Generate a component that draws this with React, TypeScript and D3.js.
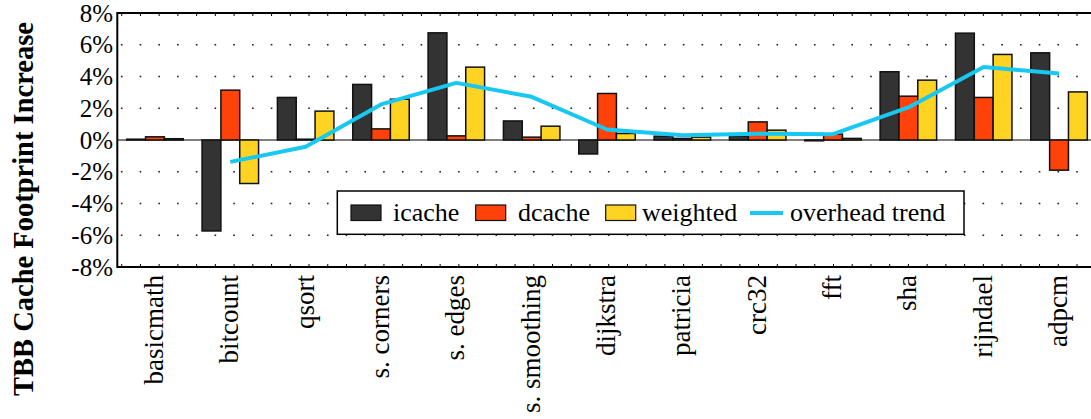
import React from "react";
import * as d3 from "d3";

const categories = ["basicmath", "bitcount", "qsort", "s. corners", "s. edges", "s. smoothing", "dijkstra", "patricia", "crc32", "fft", "sha", "rijndael", "adpcm"];
const icache = [0.05, -5.73, 2.68, 3.5, 6.75, 1.2, -0.88, 0.24, 0.25, -0.05, 4.3, 6.73, 5.49];
const dcache = [0.2, 3.14, 0.05, 0.7, 0.26, 0.18, 2.93, 0.1, 1.14, 0.37, 2.76, 2.68, -1.9];
const weighted = [0.08, -2.74, 1.82, 2.57, 4.59, 0.87, 0.41, 0.18, 0.62, 0.1, 3.77, 5.39, 3.03];
const trend: (number | null)[] = [null, -1.38, -0.43, 2.24, 3.6, 2.72, 0.66, 0.3, 0.4, 0.37, 2.05, 4.6, 4.19];
const yTicks = [-8, -6, -4, -2, 0, 2, 4, 6, 8];
const seriesNames = ["icache", "dcache", "weighted"];
const seriesColors = ["#333333", "#FF4209", "#FFD321"];
const trendName = "overhead trend";
const trendColor = "#19C8F2";

const W = 1091;
const H = 419;
const fontStyle = { fontFamily: '"Liberation Serif"' };

export default function App() {
  const left = 117.3;
  const top = 13;
  const bottom = 267;
  const step = 75.34;
  const right = left + step * categories.length;

  const y = d3.scaleLinear().domain([-8, 8]).range([bottom, top]);
  const x = d3.scaleBand<string>().domain(categories).range([left, right]).paddingInner(0.25).paddingOuter(0.125);
  const xs = d3.scaleBand<string>().domain(seriesNames).range([0, x.bandwidth()]);
  const tickScale = d3.scaleLinear().domain([0, 51]).range([121.7, 1077]);
  const minorTicks = d3.range(-1, 55).map((t) => tickScale(t)).filter((v) => v > left + 1 && v < W + 5);

  const series = [icache, dcache, weighted];
  const center = (c: string) => (x(c) as number) + x.bandwidth() / 2;

  const line = d3
    .line<number | null>()
    .defined((d) => d !== null)
    .x((_, i) => center(categories[i]))
    .y((d) => y(d as number));

  const legendItems = [
    { type: "rect", name: seriesNames[0], color: seriesColors[0], sx: 351, tx: 393 },
    { type: "rect", name: seriesNames[1], color: seriesColors[1], sx: 475.7, tx: 518 },
    { type: "rect", name: seriesNames[2], color: seriesColors[2], sx: 605.7, tx: 642 },
    { type: "line", name: trendName, color: trendColor, sx: 750, tx: 790 },
  ];

  return (
    <svg
      width={W}
      height={H}
      style={{ position: "absolute", left: 0, top: 0, display: "block", background: "#fff" }}
    >
      {/* dotted grid */}
      {yTicks
        .filter((t) => t !== 8 && t !== -8 && t !== 0)
        .map((t) => (
          <g key={"g" + t}>
            {minorTicks.map((mx, i) => (
              <rect key={i} x={mx - 0.8} y={y(t) - 0.8} width={1.6} height={1.6} fill="#222" />
            ))}
          </g>
        ))}
      {/* zero line */}
      <line x1={left} x2={W} y1={y(0)} y2={y(0)} stroke="#000" strokeWidth={1.2} />
      {/* bars */}
      {series.map((vals, si) =>
        vals.map((v, i) => {
          const bx = (x(categories[i]) as number) + (xs(seriesNames[si]) as number);
          const y0 = y(Math.max(0, v));
          const y1 = y(Math.min(0, v));
          return (
            <rect
              key={si + "-" + i}
              x={bx}
              y={y0}
              width={xs.bandwidth()}
              height={Math.max(0.01, y1 - y0)}
              fill={seriesColors[si]}
              stroke="#111"
              strokeWidth={1.5}
            />
          );
        })
      )}
      {/* trend line */}
      <path d={line(trend) || ""} fill="none" stroke={trendColor} strokeWidth={4} strokeLinejoin="round" />
      {/* frame */}
      <path d={`M${W + 10},${top}H${left}V${bottom}H${W + 10}`} fill="none" stroke="#000" strokeWidth={2} />
      {minorTicks.map((mx, i) => (
        <g key={"t" + i}>
          <line x1={mx} x2={mx} y1={bottom} y2={bottom - 3} stroke="#000" strokeWidth={1} />
          <line x1={mx} x2={mx} y1={top} y2={top + 3} stroke="#000" strokeWidth={1} />
        </g>
      ))}
      {/* y tick labels */}
      {yTicks.map((t) => (
        <text key={"yl" + t} x={113} y={y(t)} dy="0.34em" textAnchor="end" fontSize={25} fill="#000" style={fontStyle}>
          {t + "%"}
        </text>
      ))}
      {/* y title */}
      <text
        transform={`translate(33,209) rotate(-90)`}
        textAnchor="middle"
        fontSize={28.5}
        fontWeight="bold"
        fill="#000"
        style={fontStyle}
      >
        TBB Cache Footprint Increase
      </text>
      {/* x labels */}
      {categories.map((c) => (
        <text
          key={"xl" + c}
          transform={`translate(${center(c)},275) rotate(-90)`}
          dy="0.3em"
          textAnchor="end"
          fontSize={27}
          fill="#000"
          style={fontStyle}
        >
          {c}
        </text>
      ))}
      {/* legend */}
      <rect x={337.3} y={191} width={626.7} height={43.3} fill="#fff" stroke="#000" strokeWidth={1.5} />
      {legendItems.map((it) => (
        <g key={it.name}>
          {it.type === "rect" ? (
            <rect x={it.sx} y={205} width={30} height={15.5} fill={it.color} stroke="#111" strokeWidth={1.2} />
          ) : (
            <line x1={it.sx} x2={it.sx + 33} y1={213} y2={213} stroke={it.color} strokeWidth={4} />
          )}
          <text x={it.tx} y={221} fontSize={26} fill="#000" style={fontStyle}>
            {it.name}
          </text>
        </g>
      ))}
    </svg>
  );
}
